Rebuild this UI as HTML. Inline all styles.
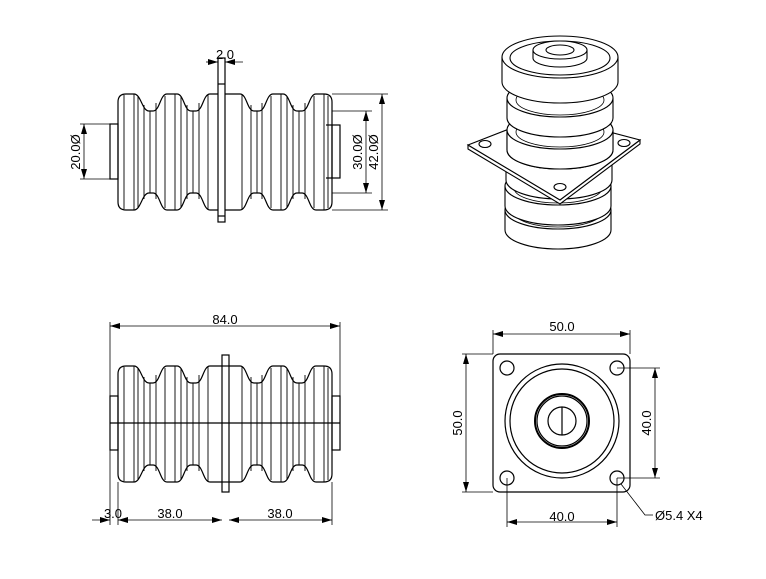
<!DOCTYPE html>
<html><head><meta charset="utf-8"><style>
html,body{margin:0;padding:0;background:#fff;width:766px;height:579px;overflow:hidden}
svg{display:block}
text{font-family:"Liberation Sans",sans-serif;font-size:13px;fill:#000}
</style></head><body>
<svg width="766" height="579" viewBox="0 0 766 579" xmlns="http://www.w3.org/2000/svg">
<defs>
<marker id="a" viewBox="0 0 10 6" refX="10" refY="3" markerWidth="10" markerHeight="6" orient="auto-start-reverse" markerUnits="userSpaceOnUse"><path d="M0,0 L10,3 L0,6 z" fill="#000"/></marker>
<g id="bell" fill="none" stroke="#000" stroke-width="1.2">
<path d="M118,202 V102 Q118,94 126,94 H134 C141,94 142,111 149,111 H153 C160,111 160,94 167,94 H177 C184,94 184,111 191,111 H196 C203,111 203,94 210,94 H240 C247,94 247,111 254,111 H259 C266,111 266,94 273,94 H283 C290,94 290,111 297,111 H302 C309,111 309,94 316,94 H324 Q332,94 332,102 V202 Q332,210 324,210 H316 C309,210 309,193 302,193 H297 C290,193 290,210 283,210 H273 C266,210 266,193 259,193 H254 C247,193 247,210 240,210 H210 C203,210 203,193 196,193 H191 C184,193 184,210 177,210 H167 C160,210 160,193 153,193 H149 C142,193 141,210 134,210 H126 Q118,210 118,202 Z"/>
<g stroke-width="0.9">
<path d="M124,95V209M134,94V210M138,96V208M144,105V199M150,111V193M156,103V199M165,96V208M175,94V210M181,96V208M187,105V199M193,111V193M199,103V199M208,95V209M242,95V209M251,105V199M257,111V193M262,103V199M271,96V208M281,94V210M287,96V208M293,105V199M299,111V193M305,103V199M314,96V208M324,94V210M328,96V208"/>
</g>
</g>
<g id="lobe">
<path d="M-53,0 V20 A53,19 0 0 0 53,20 V0" fill="#fff" stroke="#000" stroke-width="1.1"/>
<ellipse cx="0" cy="0" rx="53" ry="19" fill="#fff" stroke="#000" stroke-width="1.1"/>
<ellipse cx="0" cy="2" rx="44" ry="15" fill="none" stroke="#000" stroke-width="0.8"/>
</g>
</defs>

<use href="#bell"/>
<g fill="none" stroke="#000" stroke-width="1.2">
<rect x="218" y="58" width="7" height="164" fill="#fff"/>
<line x1="218" y1="84" x2="225" y2="84"/><line x1="218" y1="216" x2="225" y2="216"/>
<rect x="110" y="124" width="8" height="55"/>
<rect x="332" y="125" width="8" height="53"/>
<line x1="326" y1="125" x2="332" y2="125"/><line x1="326" y1="178" x2="332" y2="178"/>
</g>
<g stroke="#000" stroke-width="0.8" fill="none">
<line x1="80" y1="124" x2="110" y2="124"/><line x1="80" y1="179" x2="110" y2="179"/>
<line x1="84" y1="124" x2="84" y2="179" marker-start="url(#a)" marker-end="url(#a)"/>
<line x1="332" y1="111" x2="372" y2="111"/><line x1="332" y1="193" x2="372" y2="193"/>
<line x1="366" y1="111" x2="366" y2="193" marker-start="url(#a)" marker-end="url(#a)"/>
<line x1="332" y1="94" x2="388" y2="94"/><line x1="332" y1="210" x2="388" y2="210"/>
<line x1="382" y1="94" x2="382" y2="210" marker-start="url(#a)" marker-end="url(#a)"/>
<line x1="206" y1="62" x2="218" y2="62" marker-end="url(#a)"/>
<line x1="243" y1="62" x2="225" y2="62" marker-end="url(#a)"/>
</g>
<text x="225" y="59" text-anchor="middle">2.0</text>
<text transform="translate(80,152) rotate(-90)" text-anchor="middle">20.0Ø</text>
<text transform="translate(362,152) rotate(-90)" text-anchor="middle">30.0Ø</text>
<text transform="translate(378,152) rotate(-90)" text-anchor="middle">42.0Ø</text>

<use href="#bell" transform="translate(0,272)"/>
<g fill="none" stroke="#000" stroke-width="1.2">
<rect x="222" y="355" width="7" height="137" fill="#fff"/>
<line x1="222" y1="366" x2="229" y2="366"/><line x1="222" y1="482" x2="229" y2="482"/>
<rect x="110" y="396" width="8" height="54"/>
<rect x="332" y="396" width="8" height="54"/>
<line x1="110" y1="423" x2="340" y2="423"/>
</g>
<g stroke="#000" stroke-width="0.8" fill="none">
<line x1="110" y1="322" x2="110" y2="525"/><line x1="340" y1="322" x2="340" y2="396"/>
<line x1="110" y1="326" x2="340" y2="326" marker-start="url(#a)" marker-end="url(#a)"/>
<line x1="118" y1="482" x2="118" y2="525"/><line x1="332" y1="482" x2="332" y2="525"/>
<line x1="92" y1="520" x2="110" y2="520" marker-end="url(#a)"/>
<line x1="118" y1="520" x2="222" y2="520" marker-start="url(#a)" marker-end="url(#a)"/>
<line x1="229" y1="520" x2="332" y2="520" marker-start="url(#a)" marker-end="url(#a)"/>
</g>
<text x="225" y="324" text-anchor="middle">84.0</text>
<text x="113" y="518" text-anchor="middle">3.0</text>
<text x="170" y="518" text-anchor="middle">38.0</text>
<text x="280" y="518" text-anchor="middle">38.0</text>

<g fill="none" stroke="#000" stroke-width="1.2">
<rect x="493" y="354" width="137" height="138" rx="7"/>
<circle cx="507" cy="368" r="7"/><circle cx="617" cy="368" r="7"/>
<circle cx="507" cy="478" r="7"/><circle cx="617" cy="478" r="7"/>
<circle cx="562" cy="421" r="57"/><circle cx="562" cy="421" r="52"/>
<circle cx="562" cy="421" r="27" stroke-width="2"/><circle cx="562" cy="421" r="25"/>
<circle cx="562" cy="421" r="14"/>
<line x1="562" y1="407" x2="562" y2="435"/>
</g>
<g stroke="#000" stroke-width="0.8" fill="none">
<line x1="493" y1="330" x2="493" y2="354"/><line x1="630" y1="330" x2="630" y2="354"/>
<line x1="493" y1="334" x2="630" y2="334" marker-start="url(#a)" marker-end="url(#a)"/>
<line x1="462" y1="354" x2="493" y2="354"/><line x1="462" y1="492" x2="493" y2="492"/>
<line x1="466" y1="354" x2="466" y2="492" marker-start="url(#a)" marker-end="url(#a)"/>
<line x1="617" y1="368" x2="660" y2="368"/><line x1="617" y1="478" x2="660" y2="478"/>
<line x1="655" y1="368" x2="655" y2="478" marker-start="url(#a)" marker-end="url(#a)"/>
<line x1="507" y1="478" x2="507" y2="527"/><line x1="617" y1="478" x2="617" y2="527"/>
<line x1="507" y1="522" x2="617" y2="522" marker-start="url(#a)" marker-end="url(#a)"/>
<polyline points="621,484 645,515 653,515"/>
</g>
<text x="562" y="331" text-anchor="middle">50.0</text>
<text transform="translate(462,423) rotate(-90)" text-anchor="middle">50.0</text>
<text transform="translate(651,423) rotate(-90)" text-anchor="middle">40.0</text>
<text x="562" y="521" text-anchor="middle">40.0</text>
<text x="655" y="520">Ø5.4 X4</text>

<use href="#lobe" transform="translate(558,210)"/>
<use href="#lobe" transform="translate(558,186)"/>
<use href="#lobe" transform="translate(559,160)"/>
<g fill="#fff" stroke="#000" stroke-width="1.1">
<path d="M468,149 L560,204 L640,144 L640,140 L560,200 L468,145 Z"/>
<path d="M468,145 L545,115 L640,140 L560,200 Z"/>
<ellipse cx="485" cy="144" rx="6" ry="3.5"/><ellipse cx="624" cy="143" rx="6" ry="3.5"/>
<ellipse cx="560" cy="187" rx="6" ry="3.5"/>
</g>
<path d="M507,130 V150 A53,19 0 0 0 613,150 V130" fill="#fff" stroke="#000" stroke-width="1.1"/>
<use href="#lobe" transform="translate(560,130)"/>
<use href="#lobe" transform="translate(560,98)"/>
<g fill="#fff" stroke="#000" stroke-width="1.1">
<path d="M502,57 V82 A58,21 0 0 0 618,82 V57"/>
<ellipse cx="560" cy="57" rx="58" ry="21"/>
<ellipse cx="560" cy="58" rx="50" ry="17" fill="none"/>
<path d="M533,50 V58 A27,9 0 0 0 587,58 V50"/>
<ellipse cx="560" cy="50" rx="27" ry="9"/>
<ellipse cx="560" cy="50" rx="14" ry="5"/>
</g>
</svg>
</body></html>
